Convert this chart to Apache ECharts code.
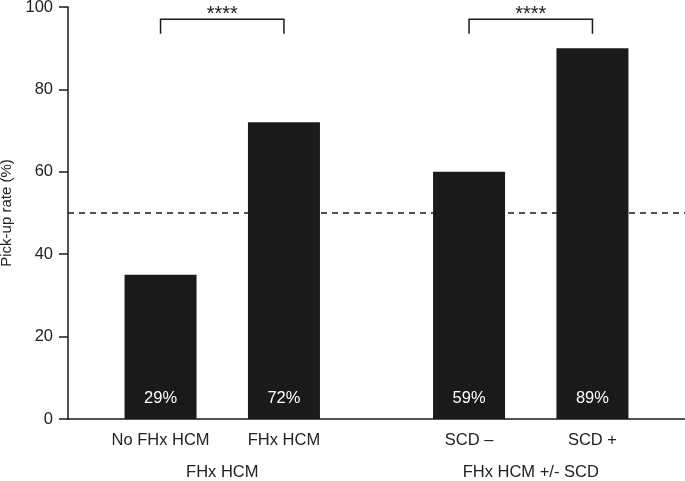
<!DOCTYPE html>
<html>
<head>
<meta charset="utf-8">
<script src="https://cdn.jsdelivr.net/npm/echarts@6/dist/echarts.min.js"></script>
<style>
  html, body { margin: 0; padding: 0; background: #fff; }
  #chart { width: 685px; height: 481px; }
</style>
</head>
<body>
<div id="chart"></div>
<script>
// 数据
const categories = ['No FHx HCM', 'FHx HCM', 'SCD –', 'SCD +']
const pickupRates = [35, 72, 60, 90]
const pctLabels = ['29%', '72%', '59%', '89%']
const groups = ['FHx HCM', 'FHx HCM +/- SCD']
// 显著性括号：[左类别, 右类别, 顶, 底]
const brackets = [[0, 1, 97, 93.5], [2, 3, 97, 93.5]]
const starText = '****'
const yTicks = [0, 20, 40, 60, 80, 100]

// 布局：类别放在 10 个槽位中
const slotCount = 10
const catSlot = [1, 3, 6, 8]
const groupSlot = [2, 7]

const xData = new Array(slotCount).fill('')
categories.forEach((c, i) => { xData[catSlot[i]] = c })
const groupData = new Array(slotCount).fill('')
groups.forEach((g, i) => { groupData[groupSlot[i]] = g })
const barData = new Array(slotCount).fill('-')
pickupRates.forEach((v, i) => { barData[catSlot[i]] = { value: v, pct: pctLabels[i] } })
const bracketData = brackets.map(b => [catSlot[b[0]], catSlot[b[1]], b[2], b[3]])

const font = 'Liberation Sans, Arial, sans-serif'
const ink = '#1a1a1a'

const option = {
  animation: false,
  grid: { left: 68, right: 0, top: 7, bottom: 62, outerBoundsMode: 'none', containLabel: false },
  xAxis: [
    {
      type: 'category',
      data: xData,
      axisLine: { lineStyle: { color: ink, width: 1.5 } },
      axisTick: {
        alignWithLabel: true,
        length: 7,
        interval: (idx, val) => val !== '',
        lineStyle: { color: ink, width: 1.5 }
      },
      axisLabel: {
        interval: 0,
        hideOverlap: false,
        margin: 13,
        color: '#222',
        fontSize: 16.5,
        fontFamily: font
      }
    },
    {
      type: 'category',
      data: groupData,
      position: 'bottom',
      offset: 37,
      axisLine: { show: false },
      axisTick: { show: false },
      axisLabel: {
        interval: 0,
        hideOverlap: false,
        color: '#222',
        fontSize: 16.5,
        fontFamily: font
      }
    }
  ],
  yAxis: {
    type: 'value',
    min: yTicks[0],
    max: yTicks[yTicks.length - 1],
    interval: 20,
    name: 'Pick-up rate (%)',
    nameLocation: 'middle',
    nameGap: 51,
    nameTextStyle: { color: '#222', fontSize: 15, fontFamily: font },
    splitLine: { show: false },
    axisLine: { show: true, lineStyle: { color: ink, width: 1.5 } },
    axisTick: { show: true, length: 9, lineStyle: { color: ink, width: 1.5 } },
    axisLabel: { color: '#222', fontSize: 16.5, fontFamily: font, margin: 15 }
  },
  series: [
    {
      type: 'bar',
      data: barData,
      barWidth: 72,
      itemStyle: { color: ink },
      label: {
        show: true,
        position: 'insideBottom',
        distance: 12,
        color: '#fff',
        fontSize: 16.5,
        fontFamily: font,
        formatter: p => p.data.pct
      },
      markLine: {
        silent: true,
        symbol: 'none',
        label: { show: false },
        lineStyle: { color: ink, type: [6, 5], width: 1.5 },
        data: [{ yAxis: 50 }]
      }
    },
    {
      type: 'custom',
      clip: false,
      data: bracketData,
      renderItem: (params, api) => {
        const pl = api.coord([api.value(0), api.value(3)])
        const tl = api.coord([api.value(0), api.value(2)])
        const tr = api.coord([api.value(1), api.value(2)])
        const pr = api.coord([api.value(1), api.value(3)])
        return {
          type: 'group',
          children: [
            {
              type: 'polyline',
              shape: { points: [pl, tl, tr, pr] },
              style: { stroke: ink, lineWidth: 1.5, fill: null }
            },
            {
              type: 'text',
              x: (tl[0] + tr[0]) / 2,
              y: tl[1] - 5,
              style: {
                text: starText,
                align: 'center',
                verticalAlign: 'middle',
                fill: '#222',
                font: '20px ' + font
              }
            }
          ]
        }
      }
    }
  ]
}

const chart = echarts.init(document.getElementById('chart'))
chart.setOption(option)
window.addEventListener('resize', chart.resize)
</script>
</body>
</html>
